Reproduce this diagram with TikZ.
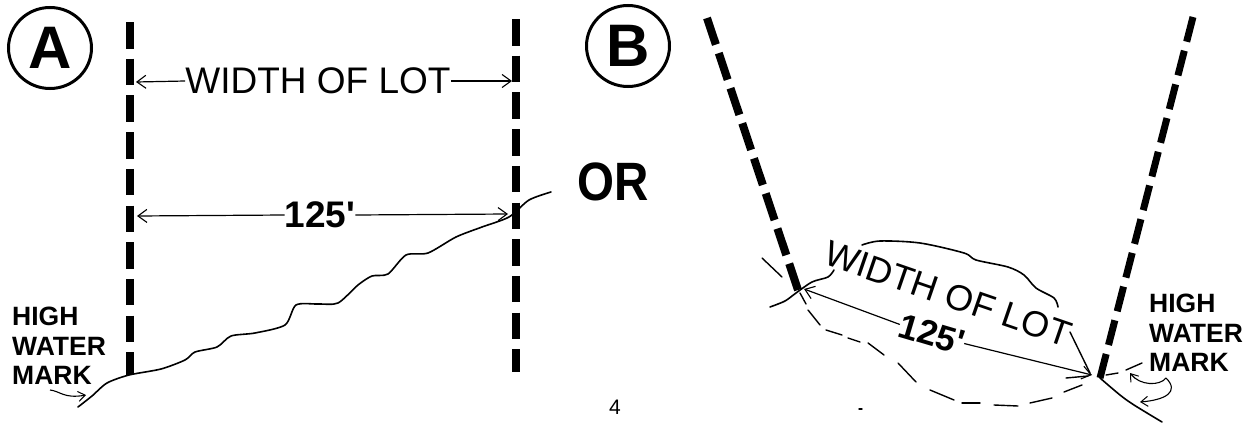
\documentclass[tikz,border=0pt]{standalone}
\usepackage{fontspec}
\setmainfont{Liberation Sans}
\usetikzlibrary{arrows.meta,shapes.geometric}
\begin{document}
\begin{tikzpicture}[x=1pt,y=-1pt,
  posta/.style={line width=8pt,dash pattern=on 26.5pt off 10.2pt},
  postbl/.style={line width=8pt,dash pattern=on 28pt off 9pt},
  postbr/.style={line width=7pt,dash pattern=on 25.5pt off 9.3pt},
  shore/.style={line width=1.6pt,line join=round,line cap=round},
  dash seg/.style={line width=1.4pt,line cap=round},
  dimline/.style={line width=1.2pt,-{Straight Barb[length=9pt,width=13pt,line width=1.1pt]}},
  curly/.style={line width=1.1pt,-{Straight Barb[length=7pt,width=10pt,line width=1pt]}},
  badge/.style={ellipse,draw,line width=3pt,minimum width=83pt,minimum height=81pt,inner sep=0pt,font=\bfseries\fontsize{60}{60}\selectfont},
  big/.style={inner sep=0pt,font=\fontsize{37}{37}\selectfont},
  bigb/.style={inner sep=0pt,font=\fontsize{36}{36}\selectfont},
  num/.style={inner sep=0pt,font=\bfseries\fontsize{37}{37}\selectfont},
  numb/.style={inner sep=0pt,font=\bfseries\fontsize{35}{35}\selectfont},
  small/.style={inner sep=0pt,align=left,font=\bfseries\fontsize{26.5}{29.3}\selectfont},
  orlabel/.style={inner sep=0pt,xscale=.88,font=\bfseries\fontsize{54}{54}\selectfont},
  pagenum/.style={inner sep=0pt,font=\fontsize{21}{21}\selectfont}
]
\useasboundingbox (0,0) rectangle (1248,423);
% ---------- panel A
\node[badge] (A) at (50,48) {A};
\coordinate (al1) at (130,22); \coordinate (al2) at (130,375);
\coordinate (ar1) at (516,19); \coordinate (ar2) at (516,372);
\draw[posta] (al1) -- (al2);
\draw[posta] (ar1) -- (ar2);
\node[big] (wa) at (318,81) {WIDTH OF LOT};
\coordinate (wal) at (136,82); \coordinate (war) at (512,81);
\draw[dimline] (wa.west) -- (wal);
\draw[dimline] (wa.east) -- (war);
\node[num] (na) at (320,215) {125\textquotesingle};
\coordinate (nal) at (137,216); \coordinate (nar) at (508,214);
\draw[dimline] (na.west) -- (nal);
\draw[dimline] (na.east) -- (nar);
\draw[shore] plot[smooth,tension=.45] coordinates {(78,407) (92,396) (107,383) (129,375) (161,369) (185,360) (195,352) (217,347) (231,336) (255,333) (285,325) (296,305) (318,304) (338,303) (358,285) (372,276) (388,274) (406,255) (428,253) (456,237) (482,227) (509,217) (529,200) (551,192)};
\node[small,anchor=north west] (hwa) at (12,307) {HIGH\\WATER\\MARK};
\coordinate (ca1) at (50,390); \coordinate (ca2) at (86,395);
\draw[curly] (ca1) .. controls (60,391) and (64,399) .. (ca2);
% ---------- middle
\node[orlabel] (or) at (613,182) {OR};
\node[pagenum] (pg) at (615,407) {4};
% ---------- panel B
\node[badge] (B) at (628,46) {B};
\coordinate (bl1) at (707,18); \coordinate (bl2) at (798,290);
\coordinate (br1) at (1193,17); \coordinate (br2) at (1100,378);
\draw[postbl] (bl1) -- (bl2);
\draw[postbr] (br1) -- (br2);
\node[bigb,rotate=-19] (wb) at (948,294) {WIDTH OF LOT};
\node[numb,rotate=-16.5] (nb) at (932,334) {125\textquotesingle};
\coordinate (nbl) at (804,289); \coordinate (nbr) at (1092,375);
\draw[dimline] (nb.west) -- (nbl);
\draw[dimline] (nb.east) -- (nbr);
% upper bank
\draw[shore] plot[smooth,tension=.5] coordinates {(770,307) (785,301) (796,293) (812,282) (828,277) (834,270)};
\draw[shore] plot[smooth,tension=.5] coordinates {(862,245) (880,241) (920,243) (964,253) (976,260) (1008,267) (1024,275) (1036,288) (1054,298) (1058,307)};
\draw[dash seg] (1070,332) -- (1090,373);
% lower bank, broken
\foreach \p/\q in {{(762,258)}/{(782,277)},{(800,293)}/{(806,304)},{(808,310)}/{(820,325)},{(826,330)}/{(842,335)},{(848,338)}/{(860,342)},{(868,343)}/{(884,355)},{(898,363)}/{(916,382)},{(930,390)}/{(954,400)},{(962,403)}/{(980,403)},{(994,405)}/{(1018,406)},{(1030,403)}/{(1052,398)},{(1064,392)}/{(1082,385)},{(1066,378)}/{(1088,376)},{(1106,375)}/{(1118,373)},{(1126,370)}/{(1142,363)},{(859,409)}/{(862,409)}}
  \draw[dash seg] \p -- \q;
\draw[shore] plot[smooth,tension=.5] coordinates {(1100,378) (1120,395) (1134,405) (1162,422)};
\node[small,anchor=north west] (hwb) at (1149,294) {HIGH\\WATER\\MARK};
\coordinate (cb0) at (1166,378); \coordinate (cb1) at (1130,373); \coordinate (cb2) at (1140,402);
\draw[curly] (cb0) .. controls (1160,386) and (1140,386) .. (cb1);
\draw[curly] (cb0) .. controls (1180,392) and (1165,400) .. (cb2);
\end{tikzpicture}
\end{document}
